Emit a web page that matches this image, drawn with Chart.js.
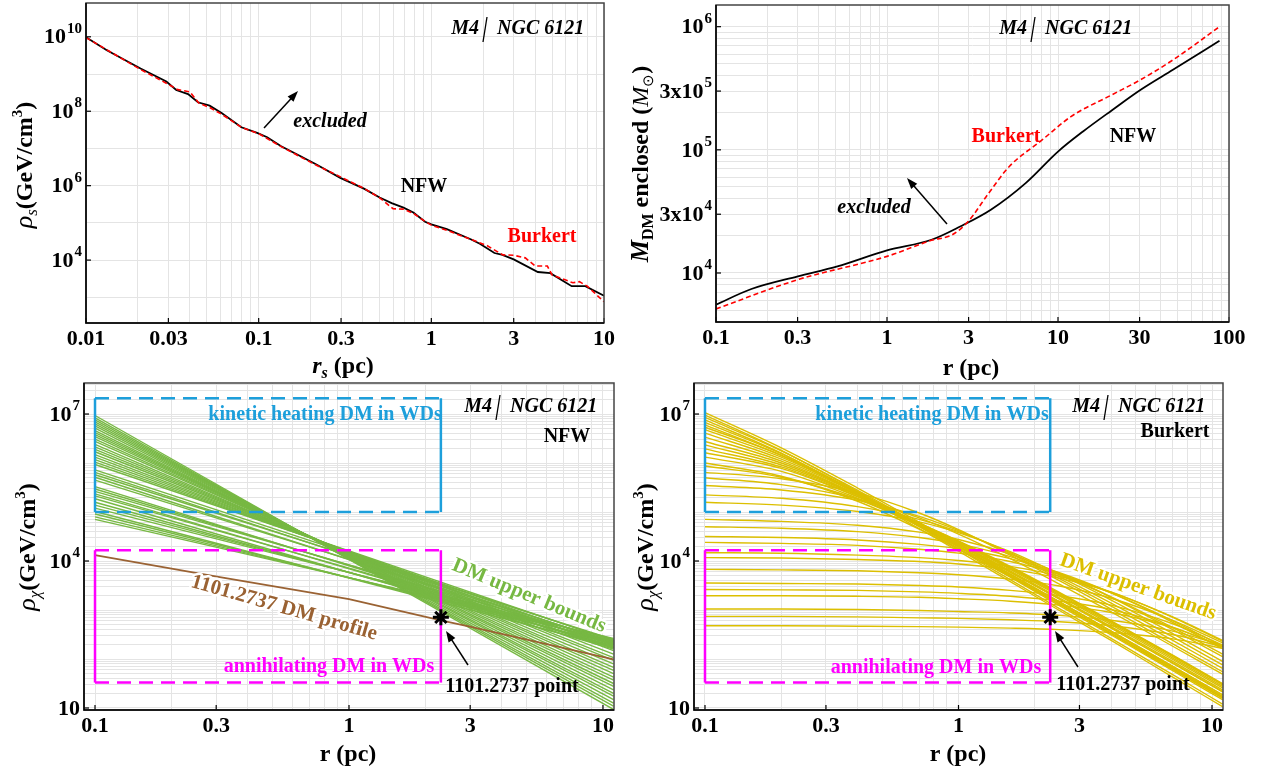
<!DOCTYPE html>
<html>
<head>
<meta charset="utf-8">
<script src="https://cdn.jsdelivr.net/npm/chart.js@4.4.1/dist/chart.umd.min.js"></script>
<style>
  html, body { margin: 0; padding: 0; background: #fff; }
  #wrap { position: relative; width: 1262px; height: 773px; overflow: hidden; background: #fff; }
  canvas { position: absolute; }
</style>
</head>
<body>
<div id="wrap">
  <canvas id="c1" width="620" height="380" style="left:0;top:0"></canvas>
  <canvas id="c2" width="642" height="380" style="left:620px;top:0"></canvas>
  <canvas id="c3" width="630" height="393" style="left:0;top:380px"></canvas>
  <canvas id="c4" width="632" height="393" style="left:630px;top:380px"></canvas>
</div>
<script>
const SERIF = '"Liberation Serif", "Times New Roman", serif';

// ---- top left: rho_s vs r_s (values are log10 of GeV/cm^3)
const rsNfw = [0.01, 0.0132, 0.0207, 0.0292, 0.0333, 0.039, 0.0445, 0.052, 0.061, 0.0794, 0.098, 0.112, 0.135, 0.175, 0.216, 0.297, 0.407, 0.502, 0.589, 0.69, 0.787, 0.92, 1.0, 1.23, 1.69, 1.91, 2.32, 2.58, 3.0, 4.14, 4.89, 6.5, 7.8, 10];
const rhoNfwLog = [9.99, 9.64, 9.15, 8.80, 8.57, 8.46, 8.24, 8.15, 7.95, 7.57, 7.42, 7.30, 7.06, 6.79, 6.57, 6.21, 5.92, 5.68, 5.53, 5.41, 5.28, 5.03, 4.96, 4.83, 4.56, 4.44, 4.19, 4.14, 4.02, 3.68, 3.65, 3.30, 3.30, 3.04];
const rsBurkert = [0.01, 0.0207, 0.029, 0.034, 0.04, 0.045, 0.052, 0.061, 0.08, 0.1, 0.135, 0.175, 0.216, 0.3, 0.41, 0.5, 0.6, 0.69, 0.79, 0.92, 1.0, 1.23, 1.69, 2.1, 2.6, 3.0, 3.5, 4.0, 4.7, 5.0, 6.6, 7.2, 8.0, 10];
const rhoBurkertLog = [9.98, 9.12, 8.76, 8.58, 8.52, 8.22, 8.10, 7.92, 7.56, 7.40, 7.05, 6.77, 6.55, 6.23, 5.92, 5.68, 5.38, 5.37, 5.25, 5.04, 4.94, 4.80, 4.56, 4.39, 4.14, 4.13, 4.06, 3.84, 3.84, 3.60, 3.39, 3.42, 3.30, 2.88];

// ---- top right: enclosed DM mass (log10 of M_sun)
const rMassNfw = [0.1, 0.161, 0.301, 0.513, 1.0, 1.82, 2.68, 4.05, 6.47, 10.0, 14.0, 20.6, 30.3, 47, 88];
const massNfwLog = [3.743, 3.870, 3.973, 4.054, 4.184, 4.27, 4.378, 4.514, 4.73, 4.986, 5.149, 5.32, 5.486, 5.65, 5.886];
const rMassBurkert = [0.1, 0.301, 1.0, 1.82, 2.40, 2.99, 3.94, 5.19, 8.07, 11.9, 20.6, 30.3, 47, 88];
const massBurkertLog = [3.708, 3.946, 4.135, 4.265, 4.31, 4.42, 4.65, 4.865, 5.08, 5.27, 5.446, 5.568, 5.73, 6.0];

// ---- bottom left: NFW upper bounds (power laws, log10 at r = 0.1 and r = 11)
const boundR = [0.1, 11];
const nfwLeftLog = [6.97, 6.92, 6.88, 6.84, 6.80, 6.76, 6.71, 6.66, 6.62, 6.58, 6.54, 6.49, 6.44, 6.38, 6.33, 6.28, 6.23, 6.17, 6.12, 6.07, 6.02, 5.97,
  5.86, 5.81, 5.76, 5.71, 5.65, 5.52, 5.47, 5.42, 5.37, 5.33, 5.27, 5.20, 5.14, 5.08, 5.01, 4.96, 4.90, 4.85];
const nfwRightLog = [0.97, 1.04, 1.10, 1.17, 1.24, 1.30, 1.37, 1.44, 1.50, 1.57, 1.63, 1.70, 1.77, 1.83, 1.90, 1.97, 2.03, 2.10, 2.17, 2.23, 2.30, 2.37,
  2.38, 2.33, 2.40, 2.28, 2.35, 2.22, 2.30, 2.36, 2.25, 2.32, 2.20, 2.27, 2.34, 2.40, 2.24, 2.31, 2.37, 2.42];
const profileR = [0.1, 0.302, 1, 2.3, 2.99, 11];
const profileRhoLog = [4.12, 3.68, 3.22, 2.79, 2.66, 1.99];

// ---- bottom right: Burkert upper bounds (log10 at burkertR)
const burkertR = [0.1, 0.2, 0.4, 0.7, 1, 1.6, 2.5, 4, 7, 11];
const burkertLog = [
  [7.03, 6.31, 5.49, 4.79, 4.34, 3.74, 3.16, 2.56, 1.83, 1.24],
  [6.98, 6.26, 5.42, 4.70, 4.24, 3.62, 3.03, 2.42, 1.68, 1.08],
  [6.93, 6.25, 5.44, 4.75, 4.30, 3.70, 3.13, 2.52, 1.79, 1.21],
  [6.88, 6.20, 5.37, 4.66, 4.20, 3.58, 2.99, 2.38, 1.63, 1.03],
  [6.83, 6.19, 5.40, 4.71, 4.26, 3.67, 3.09, 2.49, 1.76, 1.17],
  [6.78, 6.15, 5.38, 4.72, 4.29, 3.72, 3.16, 2.57, 1.85, 1.27],
  [6.73, 6.16, 5.40, 4.73, 4.29, 3.69, 3.12, 2.52, 1.79, 1.20],
  [6.68, 6.12, 5.39, 4.74, 4.31, 3.73, 3.17, 2.57, 1.85, 1.27],
  [6.61, 6.08, 5.38, 4.76, 4.35, 3.78, 3.23, 2.64, 1.92, 1.34],
  [6.53, 6.04, 5.36, 4.76, 4.36, 3.80, 3.25, 2.66, 1.95, 1.37],
  [6.44, 6.00, 5.35, 4.77, 4.38, 3.83, 3.29, 2.70, 1.99, 1.41],
  [6.37, 5.96, 5.34, 4.77, 4.39, 3.85, 3.31, 2.73, 2.02, 1.44],
  [6.29, 5.92, 5.32, 4.77, 4.40, 3.87, 3.34, 2.76, 2.05, 1.47],
  [6.21, 5.89, 5.31, 4.77, 4.41, 3.89, 3.36, 2.78, 2.08, 1.50],
  [6.12, 5.83, 5.28, 4.75, 4.39, 3.87, 3.34, 2.77, 2.07, 1.49],
  [6.00, 5.73, 5.22, 4.65, 4.24, 3.68, 3.12, 2.53, 1.81, 1.23],
  [5.94, 5.71, 5.26, 4.72, 4.33, 3.77, 3.22, 2.63, 1.91, 1.33],
  [5.81, 5.68, 5.39, 4.98, 4.64, 4.12, 3.60, 3.02, 2.31, 1.74],
  [5.70, 5.56, 5.27, 4.88, 4.55, 4.05, 3.53, 2.96, 2.26, 1.69],
  [5.54, 5.45, 5.24, 4.91, 4.62, 4.15, 3.64, 3.08, 2.38, 1.81],
  [5.35, 5.28, 5.11, 4.85, 4.60, 4.17, 3.68, 3.14, 2.45, 1.88],
  [5.20, 5.14, 5.01, 4.80, 4.58, 4.19, 3.73, 3.20, 2.52, 1.95],
  [4.85, 4.81, 4.73, 4.59, 4.44, 4.14, 3.75, 3.26, 2.60, 2.05],
  [4.70, 4.67, 4.60, 4.48, 4.35, 4.09, 3.72, 3.27, 2.64, 2.10],
  [4.50, 4.48, 4.43, 4.34, 4.25, 4.05, 3.76, 3.35, 2.75, 2.21],
  [4.38, 4.36, 4.32, 4.24, 4.16, 3.99, 3.73, 3.35, 2.78, 2.26],
  [4.17, 4.16, 4.12, 4.07, 4.01, 3.89, 3.69, 3.37, 2.85, 2.36],
  [4.07, 4.06, 4.03, 3.99, 3.94, 3.83, 3.65, 3.36, 2.86, 2.38],
  [3.83, 3.82, 3.80, 3.76, 3.72, 3.63, 3.49, 3.24, 2.79, 2.33],
  [3.55, 3.54, 3.53, 3.50, 3.47, 3.40, 3.29, 3.10, 2.72, 2.29],
  [3.42, 3.41, 3.40, 3.37, 3.34, 3.28, 3.18, 3.01, 2.65, 2.25],
  [3.29, 3.29, 3.28, 3.26, 3.23, 3.18, 3.10, 2.95, 2.64, 2.26],
  [3.02, 3.02, 3.01, 2.99, 2.97, 2.94, 2.89, 2.79, 2.57, 2.28],
  [2.87, 2.87, 2.86, 2.84, 2.83, 2.80, 2.76, 2.68, 2.50, 2.25],
  [2.68, 2.68, 2.67, 2.66, 2.65, 2.63, 2.60, 2.54, 2.41, 2.22]
];

// 1101.2737 point and the white-dwarf boxes [rMin, rMax, rhoMin, rhoMax]
const pointR = [2.3];
const pointRhoLog = [2.85];
const kineticBox = [0.1, 2.3, 1e5, 2.1e7];
const annihBox = [0.1, 2.3, 33, 16600];

// tick labels ("^" marks the exponent)
const xTicks1 = [0.01, 0.03, 0.1, 0.3, 1, 3, 10];
const xLabels1 = ['0.01', '0.03', '0.1', '0.3', '1', '3', '10'];
const yTicks1 = [1e4, 1e6, 1e8, 1e10];
const yLabels1 = ['10^4', '10^6', '10^8', '10^10'];
const xTicks2 = [0.1, 0.3, 1, 3, 10, 30, 100];
const xLabels2 = ['0.1', '0.3', '1', '3', '10', '30', '100'];
const yTicks2 = [1e4, 3e4, 1e5, 3e5, 1e6];
const yLabels2 = ['10^4', '3x10^4', '10^5', '3x10^5', '10^6'];
const xTicks3 = [0.1, 0.3, 1, 3, 10];
const xLabels3 = ['0.1', '0.3', '1', '3', '10'];
const yTicks3 = [10, 1e4, 1e7];
const yLabels3 = ['10', '10^4', '10^7'];

const GREEN = '#77b843', YELLOW = '#dcbf00', BROWN = '#9a6233', BLUE = '#1d9fdb', MAGENTA = '#ff00ff', RED = '#ff0000';

const pts = (xs, logs) => xs.map((x, i) => ({ x: x, y: Math.pow(10, logs[i]) }));

function minorTicks(min, max) {
  const out = [];
  for (let e = Math.floor(Math.log10(min)); e <= Math.ceil(Math.log10(max)); e++) {
    for (let d = 1; d < 10; d++) {
      const v = d * Math.pow(10, e);
      if (v >= min * 0.9999 && v <= max * 1.0001) out.push(v);
    }
  }
  return out;
}
function decadeTicks(min, max) {
  return minorTicks(min, max).filter(v => Math.abs(Math.log10(v) - Math.round(Math.log10(v))) < 1e-9);
}

function logAxis(min, max, gridVals, labelVals, labelText, fit, isX) {
  return {
    type: 'logarithmic', min: min, max: max,
    afterBuildTicks: s => { s.ticks = gridVals.map(v => ({ value: v })); },
    afterFit: s => {
      if (isX) s.height = fit; else s.width = fit;
      s.paddingTop = 0; s.paddingBottom = 0; s.paddingLeft = 0; s.paddingRight = 0;
    },
    ticks: {
      autoSkip: false, maxRotation: 0, minRotation: 0, padding: isX ? 3 : 5,
      // y labels are drawn by the decor plugin (they carry superscripts)
      color: isX ? '#000' : 'rgba(0,0,0,0)',
      font: { family: SERIF, size: 22, weight: 'bold' },
      callback: v => {
        const i = labelVals.findIndex(l => Math.abs(Math.log10(l / v)) < 1e-6);
        return i < 0 ? '' : labelText[i];
      }
    },
    grid: { color: '#e4e4e4', lineWidth: 1, drawTicks: false },
    border: { display: false }
  };
}

function boxSets(b, color) {
  const [x0, x1, y0, y1] = b;
  const dashed = { borderColor: color, borderWidth: 2.5, borderDash: [14, 8], pointRadius: 0, order: 1 };
  const solid = { borderColor: color, borderWidth: 2.5, pointRadius: 0, order: 1 };
  return [
    Object.assign({ data: [{ x: x0, y: y1 }, { x: x1, y: y1 }] }, dashed),
    Object.assign({ data: [{ x: x0, y: y0 }, { x: x1, y: y0 }] }, dashed),
    Object.assign({ data: [{ x: x0, y: y0 }, { x: x0, y: y1 }] }, solid),
    Object.assign({ data: [{ x: x1, y: y0 }, { x: x1, y: y1 }] }, solid)
  ];
}

const starStyle = { showLine: false, pointStyle: 'star', pointRadius: 8, borderColor: '#000', borderWidth: 3, order: 0 };

// ---- text decoration per canvas
const F = (s, w) => (w || 'bold') + ' ' + s + 'px ' + SERIF;
const yTitleRho = sub => [
  { t: '\u03c1', font: 'italic 26px ' + SERIF },
  { t: sub, font: 'italic 17px ' + SERIF, dy: 5 },
  { t: '(GeV/cm', font: F(24) },
  { t: '3', font: F(15), dy: -10 },
  { t: ')', font: F(24) }
];
const rpc = [{ t: 'r (pc)', font: F(24) }];

const decor = {
  c1: {
    m4: [485, 29],
    texts: [
      { text: 'excluded', x: 330, y: 122, font: F(20, 'italic bold'), color: '#000' },
      { text: 'NFW', x: 424, y: 187, font: F(20), color: '#000' },
      { text: 'Burkert', x: 542, y: 237, font: F(20), color: RED }
    ],
    arrows: [[264, 128, 298, 91]],
    xTitle: { x: 343, y: 365, segs: [{ t: 'r', font: F(24, 'italic bold') }, { t: 's', font: F(16, 'italic bold'), dy: 5 }, { t: ' (pc)', font: F(24) }] },
    yTitle: { x: 24, y: 165, segs: yTitleRho('s') }
  },
  c2: {
    m4: [413, 29],
    texts: [
      { text: 'excluded', x: 254, y: 208, font: F(20, 'italic bold'), color: '#000' },
      { text: 'NFW', x: 513, y: 137, font: F(20), color: '#000' },
      { text: 'Burkert', x: 386, y: 137, font: F(20), color: RED }
    ],
    arrows: [[327, 224, 287, 178]],
    xTitle: { x: 351, y: 367, segs: rpc },
    yTitle: { x: 20, y: 164, segs: [
      { t: 'M', font: F(25, 'italic bold') },
      { t: 'DM', font: F(16), dy: 5 },
      { t: ' enclosed (', font: F(24) },
      { t: 'M', font: 'italic 24px ' + SERIF },
      { t: '\u2299', font: '15px ' + SERIF, dy: 5 },
      { t: ')', font: F(24) }
    ] }
  },
  c3: {
    m4: [498, 27],
    texts: [
      { text: 'kinetic heating DM in WDs', x: 325, y: 35, font: F(20), color: BLUE },
      { text: 'NFW', x: 567, y: 57, font: F(20), color: '#000' },
      { text: 'DM upper bounds', x: 529, y: 216, font: F(21), color: GREEN, angle: 22.5, halo: true },
      { text: '1101.2737 DM profile', x: 284, y: 228, font: F(21), color: BROWN, angle: 16, halo: true },
      { text: 'annihilating DM in WDs', x: 329, y: 287, font: F(20), color: MAGENTA },
      { text: '1101.2737 point', x: 512, y: 307, font: F(20), color: '#000' }
    ],
    arrows: [[468, 285, 446, 251]],
    xTitle: { x: 348, y: 373, segs: rpc },
    yTitle: { x: 27, y: 167, segs: yTitleRho('\u03c7') }
  },
  c4: {
    m4: [476, 27],
    texts: [
      { text: 'kinetic heating DM in WDs', x: 302, y: 35, font: F(20), color: BLUE },
      { text: 'Burkert', x: 545, y: 52, font: F(20), color: '#000' },
      { text: 'DM upper bounds', x: 508, y: 207, font: F(21), color: YELLOW, angle: 19.5, halo: true },
      { text: 'annihilating DM in WDs', x: 306, y: 288, font: F(20), color: MAGENTA },
      { text: '1101.2737 point', x: 493, y: 305, font: F(20), color: '#000' }
    ],
    arrows: [[448, 287, 425, 251]],
    xTitle: { x: 328, y: 373, segs: rpc },
    yTitle: { x: 15, y: 167, segs: yTitleRho('\u03c7') }
  }
};

function drawSegs(ctx, segs, cx, cy, rot) {
  ctx.save();
  ctx.translate(cx, cy);
  if (rot) ctx.rotate(rot);
  let total = 0;
  segs.forEach(s => { ctx.font = s.font; s.w = ctx.measureText(s.t).width; total += s.w; });
  let x = -total / 2;
  ctx.textAlign = 'left';
  ctx.textBaseline = 'alphabetic';
  ctx.fillStyle = '#000';
  segs.forEach(s => { ctx.font = s.font; ctx.fillText(s.t, x, 8 + (s.dy || 0)); x += s.w; });
  ctx.restore();
}

// "3x10^5" -> base "3x10" and raised exponent "5", right aligned at xRight
function drawPowLabel(ctx, text, xRight, y) {
  const parts = text.split('^');
  ctx.save();
  ctx.fillStyle = '#000';
  ctx.textAlign = 'left';
  ctx.textBaseline = 'middle';
  ctx.font = F(22);
  const wb = ctx.measureText(parts[0]).width;
  ctx.font = F(15);
  const we = parts[1] ? ctx.measureText(parts[1]).width + 1 : 0;
  const x = xRight - wb - we;
  ctx.font = F(22);
  ctx.fillText(parts[0], x, y + 1);
  if (parts[1]) {
    ctx.font = F(15);
    ctx.fillText(parts[1], x + wb + 1, y - 8);
  }
  ctx.restore();
}

function drawArrow(ctx, a) {
  const [x1, y1, x2, y2] = a;
  const ang = Math.atan2(y2 - y1, x2 - x1);
  const c = Math.cos(ang), s = Math.sin(ang);
  ctx.save();
  ctx.strokeStyle = '#000';
  ctx.fillStyle = '#000';
  ctx.lineWidth = 1.5;
  ctx.beginPath();
  ctx.moveTo(x1, y1);
  ctx.lineTo(x2 - 7 * c, y2 - 7 * s);
  ctx.stroke();
  ctx.beginPath();
  ctx.moveTo(x2, y2);
  ctx.lineTo(x2 - 11 * c + 4 * s, y2 - 11 * s - 4 * c);
  ctx.lineTo(x2 - 11 * c - 4 * s, y2 - 11 * s + 4 * c);
  ctx.closePath();
  ctx.fill();
  ctx.restore();
}

const decorPlugin = {
  id: 'decor',
  afterDraw(chart) {
    const spec = decor[chart.canvas.id];
    const ctx = chart.ctx;
    const a = chart.chartArea;
    // inward tick marks at labelled values
    ctx.save();
    ctx.strokeStyle = '#000';
    ctx.lineWidth = 1.2;
    chart.scales.x.ticks.forEach(t => {
      if (!t.label) return;
      const px = chart.scales.x.getPixelForValue(t.value);
      ctx.beginPath(); ctx.moveTo(px, a.bottom); ctx.lineTo(px, a.bottom - 5); ctx.stroke();
    });
    chart.scales.y.ticks.forEach(t => {
      if (!t.label) return;
      const py = chart.scales.y.getPixelForValue(t.value);
      ctx.beginPath(); ctx.moveTo(a.left, py); ctx.lineTo(a.left + 5, py); ctx.stroke();
      drawPowLabel(ctx, t.label, a.left - 4, py);
    });
    // frame
    ctx.strokeStyle = '#444';
    ctx.lineWidth = 1.5;
    ctx.strokeRect(a.left, a.top, a.right - a.left, a.bottom - a.top);
    ctx.strokeStyle = '#000';
    ctx.beginPath();
    ctx.moveTo(a.left, a.top); ctx.lineTo(a.left, a.bottom); ctx.lineTo(a.right, a.bottom);
    ctx.stroke();
    ctx.restore();

    // M4 / NGC 6121
    const [sx, sy] = spec.m4;
    ctx.save();
    ctx.font = F(20, 'italic bold');
    ctx.fillStyle = '#000';
    ctx.textBaseline = 'middle';
    ctx.textAlign = 'right';
    ctx.fillText('M4', sx - 6, sy);
    ctx.textAlign = 'left';
    ctx.fillText('NGC 6121', sx + 12, sy);
    ctx.strokeStyle = '#000';
    ctx.lineWidth = 1.3;
    ctx.beginPath(); ctx.moveTo(sx - 2, sy + 13); ctx.lineTo(sx + 2, sy - 12); ctx.stroke();
    ctx.restore();

    spec.texts.forEach(t => {
      ctx.save();
      ctx.translate(t.x, t.y);
      if (t.angle) ctx.rotate(t.angle * Math.PI / 180);
      ctx.font = t.font;
      ctx.textAlign = 'center';
      ctx.textBaseline = 'middle';
      if (t.halo) {
        ctx.strokeStyle = '#fff'; ctx.lineWidth = 5; ctx.lineJoin = 'round';
        ctx.strokeText(t.text, 0, 0);
      }
      ctx.fillStyle = t.color;
      ctx.fillText(t.text, 0, 0);
      ctx.restore();
    });
    spec.arrows.forEach(ar => drawArrow(ctx, ar));
    drawSegs(ctx, spec.xTitle.segs, spec.xTitle.x, spec.xTitle.y, 0);
    drawSegs(ctx, spec.yTitle.segs, spec.yTitle.x, spec.yTitle.y, -Math.PI / 2);
  }
};

function makeChart(id, datasets, scales, padding) {
  return new Chart(document.getElementById(id), {
    type: 'line',
    data: { datasets: datasets },
    options: {
      responsive: false, animation: false, events: [],
      layout: { padding: padding, autoPadding: false },
      scales: scales,
      elements: { point: { radius: 0 }, line: { fill: false } },
      plugins: { legend: { display: false }, tooltip: { enabled: false } }
    },
    plugins: [decorPlugin]
  });
}

// panel 1
makeChart('c1', [
  { data: pts(rsBurkert, rhoBurkertLog), borderColor: RED, borderWidth: 1.6, borderDash: [5, 3], pointRadius: 0, order: 0 },
  { data: pts(rsNfw, rhoNfwLog), borderColor: '#000', borderWidth: 1.8, pointRadius: 0, order: 1 }
], {
  x: logAxis(0.01, 10, minorTicks(0.01, 10), xTicks1, xLabels1, 57, true),
  y: logAxis(204, 8.1e10, decadeTicks(204, 8.1e10), yTicks1, yLabels1, 86, false)
}, { left: 0, right: 16, top: 3, bottom: 0 });

// panel 2
makeChart('c2', [
  { data: pts(rMassBurkert, massBurkertLog), borderColor: RED, borderWidth: 1.6, borderDash: [5, 3], pointRadius: 0, cubicInterpolationMode: 'monotone', order: 0 },
  { data: pts(rMassNfw, massNfwLog), borderColor: '#000', borderWidth: 1.8, pointRadius: 0, cubicInterpolationMode: 'monotone', order: 1 }
], {
  x: logAxis(0.1, 100, minorTicks(0.1, 100), xTicks2, xLabels2, 58, true),
  y: logAxis(4000, 1.5e6, minorTicks(4000, 1.5e6), yTicks2, yLabels2, 96, false)
}, { left: 0, right: 33, top: 5, bottom: 0 });

// panel 3
const nfwSets = nfwLeftLog.map((l, i) => ({
  data: pts(boundR, [l, nfwRightLog[i]]), borderColor: GREEN, borderWidth: 1.4, pointRadius: 0, order: 3
}));
makeChart('c3', [Object.assign({ data: pts(pointR, pointRhoLog) }, starStyle),
  { data: pts(profileR, profileRhoLog), borderColor: BROWN, borderWidth: 1.8, pointRadius: 0, order: 2 }
].concat(boxSets(kineticBox, BLUE), boxSets(annihBox, MAGENTA), nfwSets), {
  x: logAxis(0.0905, 11.05, minorTicks(0.0905, 11.05), xTicks3, xLabels3, 63, true),
  y: logAxis(9.1, 4.3e7, minorTicks(9.1, 4.3e7), yTicks3, yLabels3, 84, false)
}, { left: 0, right: 16, top: 3, bottom: 0 });

// panel 4
const burkertSets = burkertLog.map(row => ({
  data: pts(burkertR, row), borderColor: YELLOW, borderWidth: 1.4, pointRadius: 0, cubicInterpolationMode: 'monotone', order: 3
}));
makeChart('c4', [Object.assign({ data: pts(pointR, pointRhoLog) }, starStyle)]
  .concat(boxSets(kineticBox, BLUE), boxSets(annihBox, MAGENTA), burkertSets), {
  x: logAxis(0.0905, 11.05, minorTicks(0.0905, 11.05), xTicks3, xLabels3, 63, true),
  y: logAxis(9.1, 4.3e7, minorTicks(9.1, 4.3e7), yTicks3, yLabels3, 64, false)
}, { left: 0, right: 39, top: 3, bottom: 0 });
</script>
</body>
</html>
